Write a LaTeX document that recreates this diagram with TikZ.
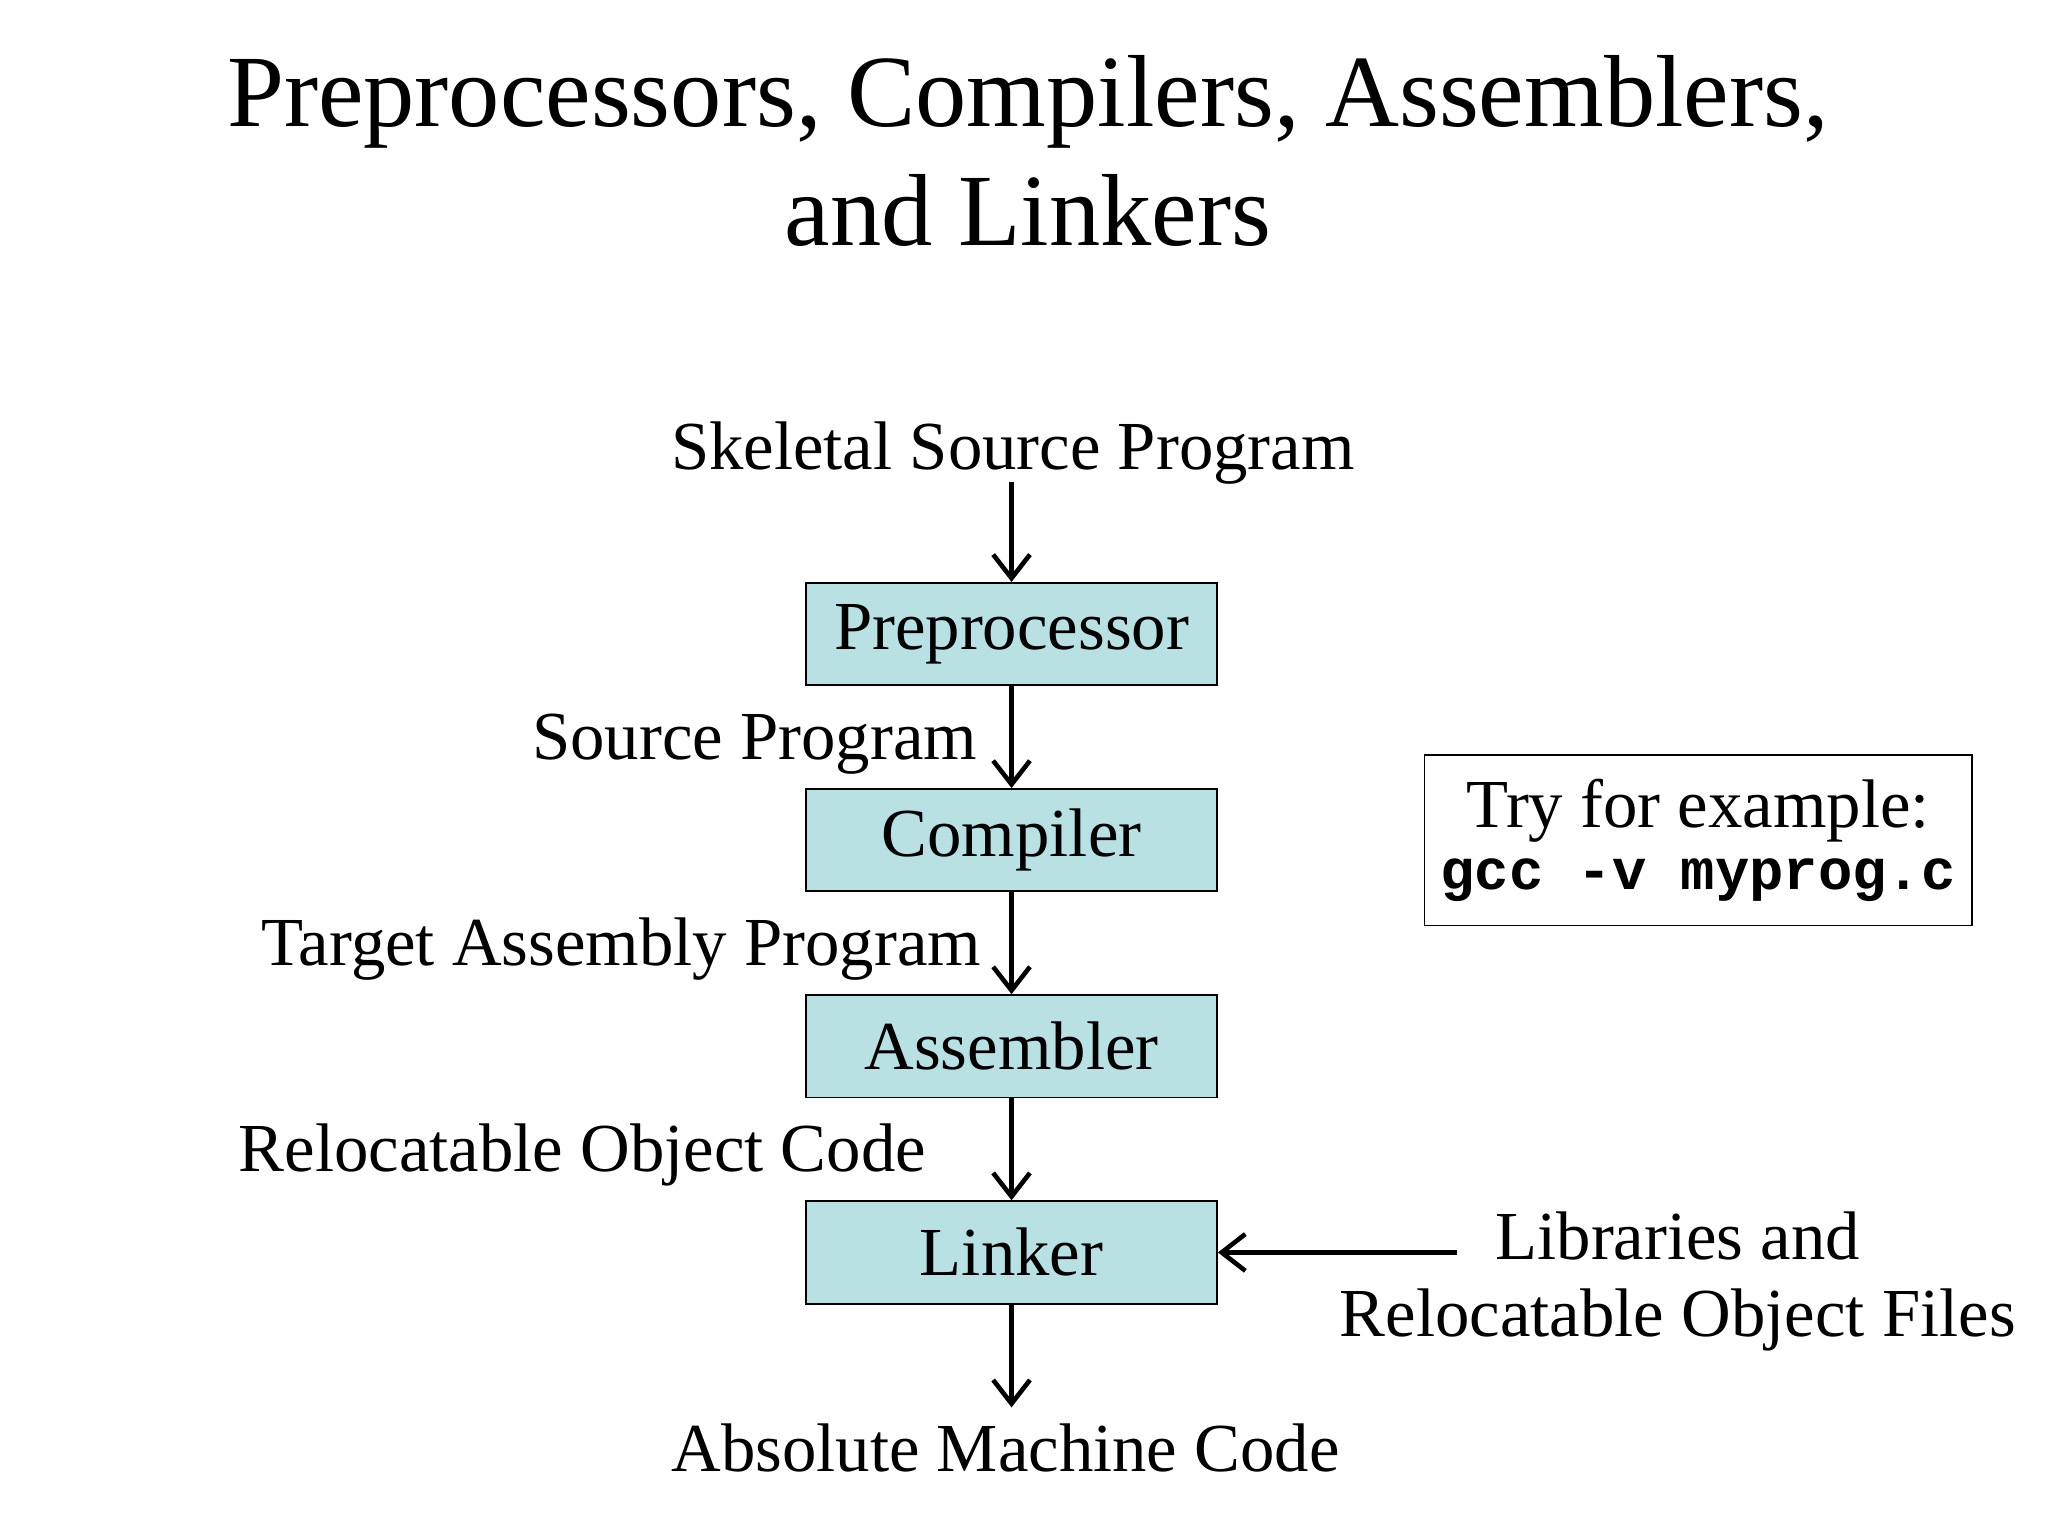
\documentclass[tikz,border=0pt]{standalone}
\usepackage{fontspec}
\setmainfont{Liberation Serif}
\setmonofont{Liberation Mono}
\usetikzlibrary{arrows.meta,positioning}
\definecolor{boxfill}{HTML}{B9E0E3}
\tikzset{
  stage/.style={draw, fill=boxfill, minimum width=3.13cm, minimum height=0.78cm,
                inner sep=0pt, font=\fontsize{14.9}{18}\selectfont},
  lbl/.style={inner sep=0pt, font=\fontsize{14.9}{18}\selectfont},
  flow/.style={line width=1pt, -{Straight Barb[length=1.8mm,width=2.8mm]}}
}
\begin{document}
\begin{tikzpicture}
\useasboundingbox (0,0) rectangle (15.6,-11.7);

% title
\node[align=center, font=\fontsize{22.2}{25.6}\selectfont] (title) at (7.83,-1.15)
  {Preprocessors, Compilers, Assemblers,\\and Linkers};

% stages
\node[stage] (prep) at (7.705,-4.83) {Preprocessor};
\node[stage] (comp) at (7.705,-6.40) {Compiler};
\node[stage] (asm)  at (7.705,-7.97) {Assembler};
\node[stage] (link) at (7.705,-9.54) {Linker};

% labels
\node[lbl] (skel) at (7.715,-3.45) {Skeletal Source Program};
\node[lbl, anchor=east] (src) at (7.45,-5.67) {Source Program};
\node[lbl, anchor=east] (tap) at (7.48,-7.23) {Target Assembly Program};
\node[lbl, anchor=east] (roc) at (7.06,-8.80) {Relocatable Object Code};
\node[lbl] (amc) at (7.66,-11.03) {Absolute Machine Code};
\node[lbl, align=center] (libs) at (12.78,-9.76)
  {Libraries and\\[-0.05cm]Relocatable Object Files};

% example box
\node[draw, align=center, minimum width=4.17cm, minimum height=1.3cm, inner sep=0pt]
  (try) at (12.935,-6.40)
  {\fontsize{14.9}{18}\selectfont Try for example:\\[0.05cm]
   \fontsize{12.4}{15}\selectfont\ttfamily\bfseries gcc -v myprog.c};

% connectors
\coordinate (libend) at (11.10,-9.54);
\coordinate (amcend) at (7.705,-10.72);
\draw[flow] (7.705,-3.67) -- (prep.north);
\draw[flow] (prep) -- (comp);
\draw[flow] (comp) -- (asm);
\draw[flow] (asm) -- (link);
\draw[flow] (link) -- (amcend);
\draw[flow] (libend) -- (link);
\end{tikzpicture}
\end{document}
